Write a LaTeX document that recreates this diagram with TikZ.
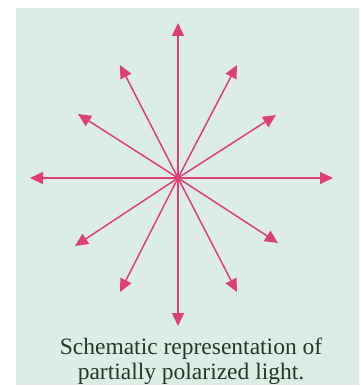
\documentclass[tikz,border=0pt]{standalone}
\usepackage{fontspec}
\setmainfont{Liberation Serif}
\usetikzlibrary{arrows.meta}
\definecolor{bgmint}{HTML}{DCEDE6}
\definecolor{ray}{HTML}{DE3F78}
\definecolor{ink}{HTML}{25352A}
\tikzset{
  rayarrow/.style={draw=ray, line width=1.5pt, -{Triangle[length=13pt,width=12pt]}},
  caption/.style={text=ink, font=\fontsize{23.5}{25}\selectfont, align=center, inner sep=0pt}
}
\begin{document}
\begin{tikzpicture}[x=1pt,y=-1pt]
\useasboundingbox (0,0) rectangle (361,387);
\fill[bgmint] (16,8) rectangle (359,385);
\coordinate (c) at (178,178);
\coordinate (t0) at (333,178);
\coordinate (t1) at (276,115);
\coordinate (t2) at (237,65);
\coordinate (t3) at (178,23);
\coordinate (t4) at (120,65);
\coordinate (t5) at (78,114);
\coordinate (t6) at (30,178);
\coordinate (t7) at (75,246);
\coordinate (t8) at (120,292);
\coordinate (t9) at (178,326);
\coordinate (t10) at (237,292);
\coordinate (t11) at (278,243);
\foreach \i in {0,...,11} \draw[rayarrow] (c) -- (t\i);
\fill[ray] (c) circle (2.5pt);
\node[caption] (cap) at (191,361) {Schematic representation of\\partially polarized light.};
\end{tikzpicture}
\end{document}
